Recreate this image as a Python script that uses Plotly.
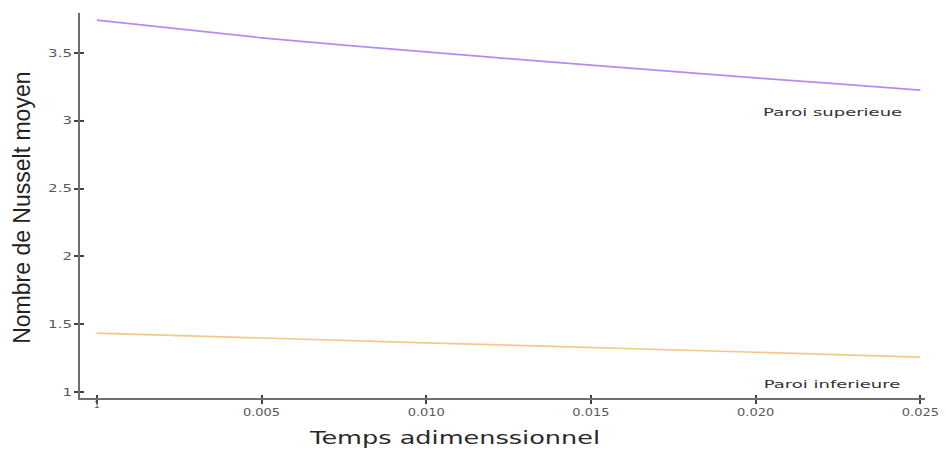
import plotly.graph_objects as go

# Dimensionless time and mean Nusselt number on each wall
temps = [0.0, 0.0025, 0.005, 0.0075, 0.010, 0.0125, 0.015, 0.0175, 0.020, 0.0225, 0.025]
nu_superieure = [3.743, 3.675, 3.612, 3.558, 3.506, 3.458, 3.410, 3.362, 3.316, 3.272, 3.227]
nu_inferieure = [1.435, 1.416, 1.396, 1.378, 1.362, 1.346, 1.329, 1.313, 1.297, 1.278, 1.258]

x_tickvals = [0.0, 0.005, 0.010, 0.015, 0.020, 0.025]
x_ticktext = ["", "0.005", "0.010", "0.015", "0.020", "0.025"]
y_tickvals = [1, 1.5, 2, 2.5, 3, 3.5]
y_ticktext = ["1", "1.5", "2", "2.5", "3", "3.5"]

AXIS_COLOR = "#6e6e6e"
TICK_FONT = dict(family="DejaVu Sans", size=10, color="#5a5a5a")

fig = go.Figure()
fig.add_trace(go.Scatter(x=temps, y=nu_superieure, mode="lines",
                         line=dict(color="#b68af0", width=1.7), showlegend=False))
fig.add_trace(go.Scatter(x=temps, y=nu_inferieure, mode="lines",
                         line=dict(color="#f6c888", width=1.7), showlegend=False))

xr = [-0.00051, 0.02514]
yr = [0.956, 3.795]

fig.update_layout(
    width=946, height=455,
    margin=dict(l=80, r=11, t=13, b=57),
    paper_bgcolor="white", plot_bgcolor="white",
    font=dict(family="Liberation Sans"),
    xaxis=dict(range=xr, showgrid=False, zeroline=False, showline=True,
               linecolor=AXIS_COLOR, linewidth=2, ticks="outside", ticklen=4,
               tickwidth=1.5, tickcolor="#444", tickvals=x_tickvals,
               ticktext=x_ticktext, tickfont=TICK_FONT),
    yaxis=dict(range=yr, showgrid=False, zeroline=False, showline=True,
               linecolor=AXIS_COLOR, linewidth=2, ticks="outside", ticklen=4,
               tickwidth=1.5, tickcolor="#444", tickvals=y_tickvals,
               ticktext=y_ticktext, tickfont=TICK_FONT),
    # overlay axes give the tick marks a short stub inside the frame
    xaxis2=dict(range=xr, overlaying="x", side="bottom", showgrid=False,
                zeroline=False, showline=False, ticks="inside", ticklen=3,
                tickwidth=1.5, tickcolor="#444", tickvals=x_tickvals,
                showticklabels=False, anchor="y"),
    yaxis2=dict(range=yr, overlaying="y", side="left", showgrid=False,
                zeroline=False, showline=False, ticks="inside", ticklen=4,
                tickwidth=1.5, tickcolor="#444", tickvals=y_tickvals,
                showticklabels=False, anchor="x"),
)
fig.add_trace(go.Scatter(x=[None], y=[None], xaxis="x2", yaxis="y2", showlegend=False))

fig.add_annotation(text="Nombre de Nusselt moyen", textangle=-90,
                   xref="paper", yref="paper", x=0, y=0.494, xshift=-58,
                   xanchor="center", yanchor="middle", showarrow=False,
                   font=dict(family="Liberation Sans", size=23, color="#222"))
fig.add_annotation(text="Temps adimenssionnel", xref="x", yref="paper",
                   x=0.01086, y=0, yshift=-39, xanchor="center", yanchor="middle",
                   showarrow=False,
                   font=dict(family="DejaVu Sans", size=18, color="#2a2a2a"))
fig.add_annotation(text="Paroi superieue", xref="x", yref="y", x=0.02232, y=3.058,
                   xanchor="center", yanchor="middle", showarrow=False,
                   font=dict(family="DejaVu Sans", size=10, color="#333"))
fig.add_annotation(text="Paroi inferieure", xref="x", yref="y", x=0.02232, y=1.052,
                   xanchor="center", yanchor="middle", showarrow=False,
                   font=dict(family="DejaVu Sans", size=10, color="#333"))
fig.add_annotation(text="1", xref="x", yref="paper", x=0.0, y=0, yshift=-7,
                   xanchor="center", yanchor="middle", showarrow=False,
                   font=dict(family="DejaVu Sans", size=9, color="#5a5a5a"))

# widen the horizontal labels (the lettering of this figure is set extended)
stretch_js = """
var gd = document.getElementById('{plot_id}');
function widenOne(t, k) {
  var w = t.getComputedTextLength();
  if (w > 0) {
    t.setAttribute('lengthAdjust', 'spacingAndGlyphs');
    t.setAttribute('textLength', (w * k).toFixed(1));
  }
}
gd.querySelectorAll('.xtick text').forEach(function (t) { widenOne(t, 1.3); });
gd.querySelectorAll('.ytick text').forEach(function (t) { widenOne(t, 1.5); });
var ann = gd.querySelectorAll('.annotation-text');
if (ann.length >= 4) {
  widenOne(ann[1], 1.42);
  widenOne(ann[2], 1.8);
  widenOne(ann[3], 1.8);
}
"""

fig.write_html("out.html", post_script=stretch_js)
